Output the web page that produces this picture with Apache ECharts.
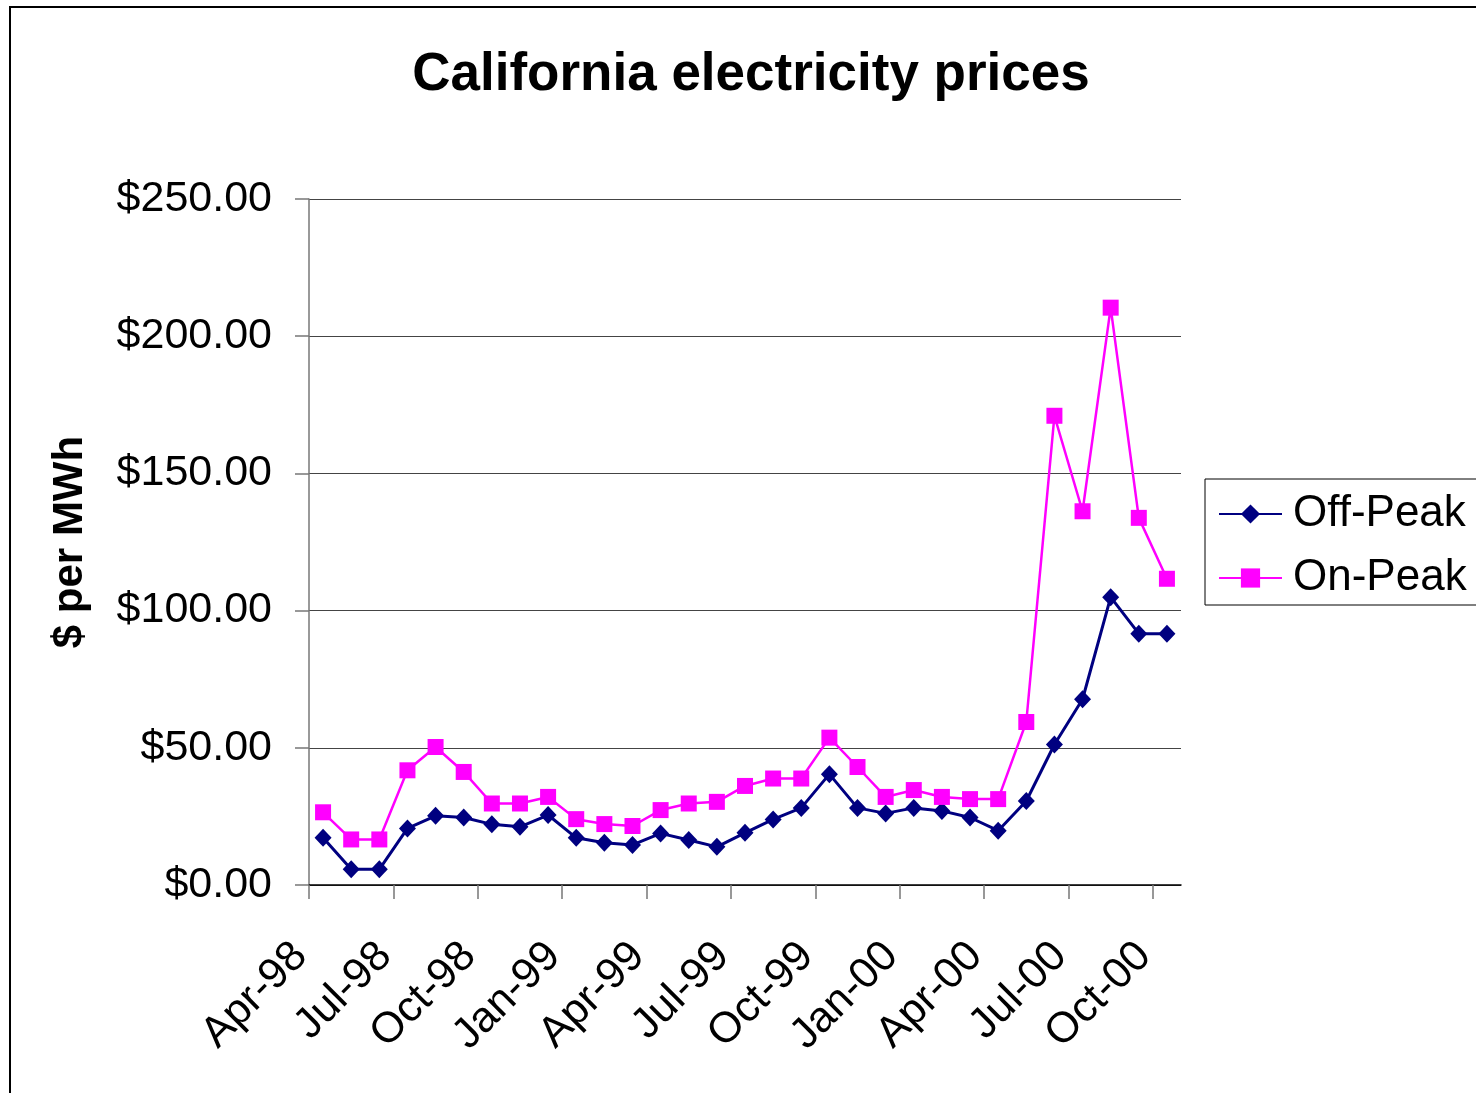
<!DOCTYPE html>
<html>
<head>
<meta charset="utf-8">
<title>California electricity prices</title>
<script src="https://cdn.jsdelivr.net/npm/echarts@6/dist/echarts.min.js"></script>
<style>
  html, body { margin: 0; padding: 0; background: #fff; }
  #chart { width: 1476px; height: 1093px; }
</style>
</head>
<body>
<div id="chart"></div>
<script>
// monthly points, Apr-98 .. Oct-00
const months = [
  'Apr-98', 'May-98', 'Jun-98', 'Jul-98', 'Aug-98', 'Sep-98', 'Oct-98', 'Nov-98', 'Dec-98',
  'Jan-99', 'Feb-99', 'Mar-99', 'Apr-99', 'May-99', 'Jun-99', 'Jul-99', 'Aug-99', 'Sep-99',
  'Oct-99', 'Nov-99', 'Dec-99', 'Jan-00', 'Feb-00', 'Mar-00', 'Apr-00', 'May-00', 'Jun-00',
  'Jul-00', 'Aug-00', 'Sep-00', 'Oct-00'
];
const offPeak = [
  17.2, 5.7, 5.7, 20.6, 25.2, 24.6, 22.1, 21.2, 25.5,
  17.2, 15.4, 14.6, 18.8, 16.4, 13.9, 19.0, 23.9, 28.1,
  40.4, 28.1, 26.1, 28.1, 27.0, 24.6, 19.8, 30.6, 51.2,
  67.7, 104.9, 91.6, 91.6
];
const onPeak = [
  26.5, 16.6, 16.6, 41.8, 50.3, 41.2, 29.7, 29.7, 32.1,
  24.0, 22.2, 21.5, 27.3, 29.7, 30.3, 36.1, 38.8, 38.8,
  53.7, 43.0, 32.1, 34.6, 32.1, 31.3, 31.3, 59.4, 171.0,
  136.2, 210.4, 133.8, 111.6
];
// quarterly labels sit on the month boundaries, every 3 months
const tickLabels = [
  'Apr-98', 'Jul-98', 'Oct-98', 'Jan-99', 'Apr-99', 'Jul-99',
  'Oct-99', 'Jan-00', 'Apr-00', 'Jul-00', 'Oct-00'
];
const tickStep = 3;
const yTicks = [0, 50, 100, 150, 200, 250];

const FONT = '"Liberation Sans", Arial, sans-serif';
const tickPos = tickLabels.map((_, i) => i * tickStep);

const chart = echarts.init(document.getElementById('chart'), null, { renderer: 'canvas' });

const option = {
  animation: false,
  backgroundColor: '#fff',
  title: {
    text: 'California electricity prices',
    left: 746,
    top: 44,
    textAlign: 'center',
    textStyle: { fontFamily: FONT, fontSize: 53, fontWeight: 'bold', color: '#000' }
  },
  legend: {
    orient: 'vertical',
    left: 1205,
    top: 479,
    padding: [13, 40, 5, 13],
    itemWidth: 63,
    itemHeight: 24,
    itemGap: 20,
    borderColor: '#000',
    borderWidth: 1,
    textStyle: { fontFamily: FONT, fontSize: 44, color: '#000', padding: [0, 0, 0, 6] },
    data: ['Off-Peak', 'On-Peak']
  },
  grid: {
    left: 309,
    right: 295,
    top: 199,
    bottom: 208,
    containLabel: false
  },
  xAxis: [
    {
      // band axis the series are drawn on
      type: 'category',
      data: months,
      boundaryGap: true,
      show: false
    },
    {
      // visible axis carrying the quarterly ticks
      type: 'value',
      min: 0,
      max: months.length,
      interval: tickStep,
      position: 'bottom',
      axisLine: { show: true, lineStyle: { color: '#000', width: 1.5 } },
      axisTick: {
        show: true,
        length: 14,
        customValues: tickPos,
        lineStyle: { color: '#777', width: 1.5 }
      },
      axisLabel: {
        customValues: tickPos,
        rotate: 45,
        margin: 56,
        padding: [0, 12, 0, 0],
        fontFamily: FONT,
        fontSize: 43,
        color: '#000',
        formatter: (v) => tickLabels[Math.round(v / tickStep)] || ''
      },
      splitLine: { show: false }
    }
  ],
  yAxis: {
    type: 'value',
    min: yTicks[0],
    max: yTicks[yTicks.length - 1],
    interval: 50,
    name: '$ per MWh',
    nameLocation: 'middle',
    nameRotate: 90,
    nameGap: 218,
    nameTextStyle: { fontFamily: FONT, fontSize: 42, fontWeight: 'bold', color: '#000' },
    axisLine: { show: true, lineStyle: { color: '#777', width: 1.5 } },
    axisTick: { show: true, length: 14, lineStyle: { color: '#777', width: 1.5 } },
    axisLabel: {
      margin: 37,
      fontFamily: FONT,
      fontSize: 43,
      color: '#000',
      formatter: (v) => '$' + v.toFixed(2)
    },
    splitLine: { show: true, lineStyle: { color: '#444', width: 1 } }
  },
  graphic: [
    {
      // outer chart-area border (right and bottom edges fall off the picture)
      type: 'rect',
      shape: { x: 10, y: 7, width: 2000, height: 2000 },
      style: { fill: 'none', stroke: '#000', lineWidth: 2 },
      silent: true
    }
  ],
  series: [
    {
      name: 'Off-Peak',
      type: 'line',
      xAxisIndex: 0,
      data: offPeak,
      symbol: 'diamond',
      symbolSize: [17, 18],
      itemStyle: { color: '#000080' },
      lineStyle: { color: '#000080', width: 3 },
      emphasis: { disabled: true }
    },
    {
      name: 'On-Peak',
      type: 'line',
      xAxisIndex: 0,
      data: onPeak,
      symbol: 'rect',
      symbolSize: 16,
      itemStyle: { color: '#FF00FF' },
      lineStyle: { color: '#FF00FF', width: 2.5 },
      emphasis: { disabled: true }
    }
  ]
};

chart.setOption(option);
</script>
</body>
</html>
